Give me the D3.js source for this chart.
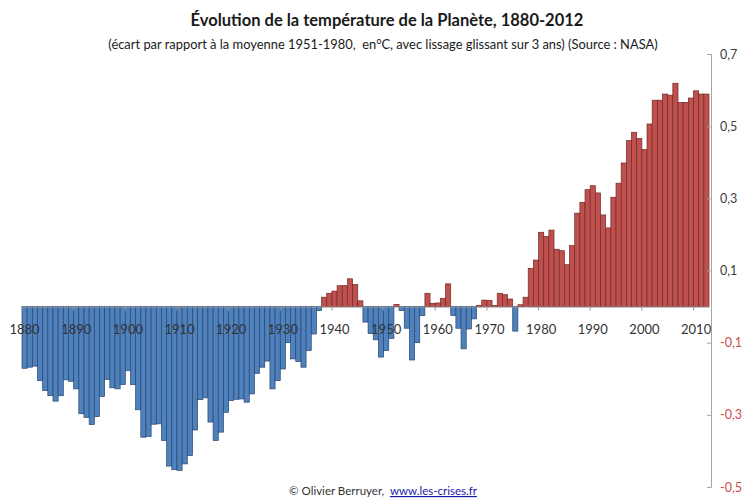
<!DOCTYPE html>
<html>
<head>
<meta charset="utf-8">
<script src="https://d3js.org/d3.v7.min.js"></script>
<style>
  body { margin: 0; background: #fff; font-family: Lato, "Open Sans", sans-serif; }
</style>
</head>
<body>
<div id="chart"></div>
<script>
// years on the category axis
var years = d3.range(1880, 2013);

// temperature anomaly, deg C vs 1951-1980, 3-yr smoothing
var anomaly = [
  -0.171, -0.168, -0.165, -0.205, -0.233, -0.247, -0.262, -0.247, -0.203, -0.207, // 1880s
  -0.228, -0.297, -0.307, -0.327, -0.305, -0.249, -0.202, -0.225, -0.228, -0.216, // 1890s
  -0.177, -0.216, -0.286, -0.362, -0.360, -0.326, -0.325, -0.371, -0.442, -0.452, // 1900s
  -0.454, -0.436, -0.413, -0.342, -0.258, -0.253, -0.320, -0.371, -0.348, -0.293, // 1910s
  -0.260, -0.257, -0.256, -0.265, -0.242, -0.185, -0.168, -0.151, -0.228, -0.205, // 1920s
  -0.173, -0.100, -0.145, -0.152, -0.168, -0.122, -0.076, -0.011,  0.026,  0.037, // 1930s
   0.043,  0.058,  0.058,  0.077,  0.061,  0.016, -0.043, -0.075, -0.092, -0.140, // 1940s
  -0.122, -0.088,  0.006, -0.011, -0.060, -0.148, -0.100, -0.025,  0.037,  0.009, // 1950s
   0.010,  0.023,  0.063, -0.025, -0.060, -0.117, -0.062, -0.034,  0.003,  0.018, // 1960s
   0.017,  0.003,  0.037,  0.033,  0.021, -0.068,  0.005,  0.026,  0.106,  0.129, // 1970s
   0.206,  0.194,  0.212,  0.159,  0.155,  0.116,  0.169,  0.259,  0.289,  0.324, // 1980s
   0.335,  0.315,  0.254,  0.218,  0.303,  0.342,  0.398,  0.460,  0.483,  0.466, // 1990s
   0.435,  0.506,  0.572,  0.572,  0.589,  0.586,  0.619,  0.566,  0.566,  0.578, // 2000s
   0.598,  0.589,  0.589                                                          // 2010s
];

var decadeLabels = [1880, 1890, 1900, 1910, 1920, 1930, 1940, 1950, 1960, 1970, 1980, 1990, 2000, 2010];
var yTicks = [0.7, 0.5, 0.3, 0.1, -0.1, -0.3, -0.5];

var data = years.map(function (yr, i) { return {year: yr, value: anomaly[i]}; });

var W = 745, H = 498;
var svg = d3.select("#chart").append("svg")
    .attr("width", W)
    .attr("height", H);

var x = d3.scaleBand().domain(years).range([22, 709]).padding(0);
var y = d3.scaleLinear().domain([-0.5, 0.7]).range([487, 54]);

// bars
svg.append("g")
    .selectAll("rect")
    .data(data)
    .enter()
    .append("rect")
    .attr("x", function (d) { return x(d.year); })
    .attr("width", x.bandwidth())
    .attr("y", function (d) { return y(Math.max(0, d.value)); })
    .attr("height", function (d) { return Math.abs(y(d.value) - y(0)); })
    .attr("fill", function (d) { return d.value >= 0 ? "#c0504d" : "#4f81bd"; })
    .attr("stroke", function (d) { return d.value >= 0 ? "#6f2b29" : "#27466e"; })
    .attr("stroke-width", 0.7);

// category axis along zero
var xAxis = svg.append("g")
    .attr("transform", "translate(0," + y(0) + ")")
    .call(d3.axisBottom(x).tickValues(decadeLabels).tickSize(0).tickPadding(18));
xAxis.select(".domain").attr("stroke", "#9a9a9a");
xAxis.selectAll("text")
    .attr("fill", "#333")
    .style("font-family", "Lato, sans-serif")
    .style("font-size", "13px");

// little tick marks at each decade boundary
svg.append("g")
    .selectAll("line")
    .data(decadeLabels)
    .enter()
    .append("line")
    .attr("x1", function (d) { return x(d); })
    .attr("x2", function (d) { return x(d); })
    .attr("y1", y(0))
    .attr("y2", y(0) + 4)
    .attr("stroke", "#9a9a9a");

// value axis on the right
var fmt = function (d) { return (d < 0 ? "-" : "") + Math.abs(d).toFixed(1).replace(".", ","); };
var yAxis = svg.append("g")
    .attr("transform", "translate(711,0)")
    .call(d3.axisRight(y).tickValues(yTicks).tickSizeInner(-4).tickSizeOuter(-4).tickPadding(9).tickFormat(fmt));
yAxis.select(".domain").attr("stroke", "#a6a6a6");
yAxis.selectAll(".tick line").attr("stroke", "#a6a6a6");
yAxis.selectAll("text")
    .attr("fill", function (d) { return d < 0 ? "#c8504d" : "#404040"; })
    .style("font-family", "Lato, sans-serif")
    .style("font-size", "12.5px");

// titles
svg.append("text")
    .attr("x", 387).attr("y", 26)
    .attr("text-anchor", "middle")
    .style("font-size", "16.5px")
    .style("font-weight", "bold")
    .attr("fill", "#1a1a1a")
    .text("Évolution de la température de la Planète, 1880-2012");

svg.append("text")
    .attr("x", 383).attr("y", 49)
    .attr("text-anchor", "middle")
    .style("font-size", "12.9px")
    .style("white-space", "pre")
    .attr("fill", "#1a1a1a")
    .text("(écart par rapport à la moyenne 1951-1980,  en°C, avec lissage glissant sur 3 ans) (Source : NASA)");

// footer
var foot = svg.append("text")
    .attr("x", 383).attr("y", 495)
    .attr("text-anchor", "middle")
    .style("font-size", "11.5px")
    .style("white-space", "pre")
    .attr("fill", "#333");
foot.append("tspan").text("© Olivier Berruyer,  ");
foot.append("tspan")
    .attr("fill", "#1a1aa6")
    .style("text-decoration", "underline")
    .text("www.les-crises.fr");
</script>
</body>
</html>
